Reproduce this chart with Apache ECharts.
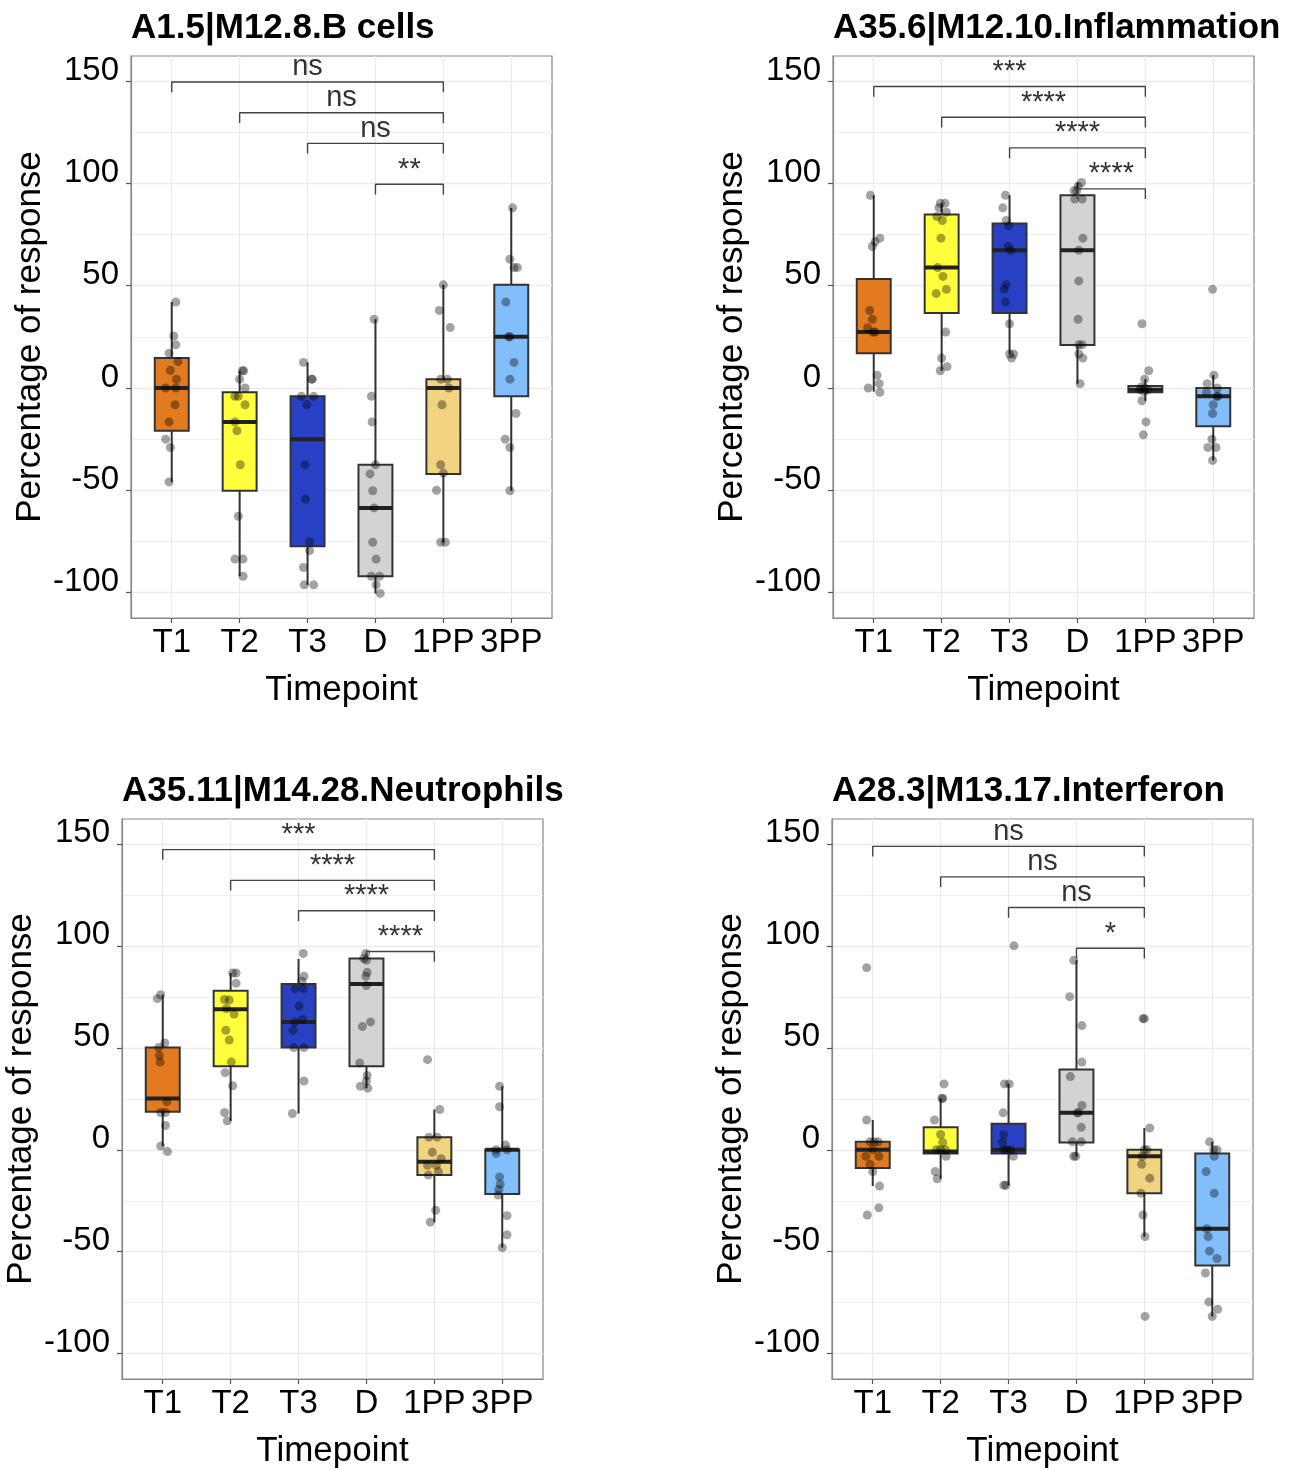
<!DOCTYPE html>
<html><head><meta charset="utf-8">
<script src="https://cdn.jsdelivr.net/npm/echarts@6/dist/echarts.min.js"></script>
<style>html,body{margin:0;padding:0;background:#fff}#c{width:1298px;height:1470px}</style>
</head><body><div id="c"></div><script>
// ---------------- DATA ----------------
const categories = ['T1', 'T2', 'T3', 'D', '1PP', '3PP'];
const yTicks = [-100, -50, 0, 50, 100, 150];
const panelTitles = ['A1.5|M12.8.B cells', 'A35.6|M12.10.Inflammation', 'A35.11|M14.28.Neutrophils', 'A28.3|M13.17.Interferon'];
const xTitle = 'Timepoint';
const yTitle = 'Percentage of response';
const bracketStart = [1, 2, 3, 4];
const bracketEnd = 5;

// box stats per category: [lower whisker, Q1, median, Q3, upper whisker]
const p1Box = [[-45.9, -20.9, 0, 14.6, 42.0], [-92.0, -50.2, -16.6, -2.1, 8.4], [-96.2, -77.3, -25.0, -4.1, 12.5], [-100.4, -92.0, -58.6, -37.5, 33.6], [-75.4, -42.0, 0, 4.3, 50.4], [-50.2, -4.1, 25.0, 50.4, 88.0]];
const p2Box = [[-1.8, 17.0, 27.3, 53.2, 94.1], [8.4, 36.6, 58.8, 84.8, 90.2], [16.6, 36.6, 67.3, 80.4, 94.1], [2.1, 21.0, 67.3, 94.1, 100.4], [-6.25, -2.1, -0.9, 0.9, 4.3], [-35.4, -18.75, -4.1, 0, 6.25]];
const p3Box = [[1.8, 18.7, 25.2, 50.1, 76.0], [14.2, 40.9, 68.9, 78.0, 86.7], [17.8, 50.1, 62.7, 81.3, 93.6], [30.2, 40.9, 81.3, 93.8, 96.3], [-35.5, -12.4, -5.9, 6.2, 19.7], [-48.0, -21.7, 0, 0, 31.1]];
const p4Box = [[-17.8, -8.9, 0, 3.9, 14.6], [-14.2, -1.8, -0.9, 11.0, 25.2], [-17.4, -1.8, 0, 12.8, 32.3], [-3.2, 3.6, 18.1, 39.4, 92.9], [-42.6, -21.3, -3.2, 0, 10.7], [-81.7, -56.8, -38.7, -1.8, 3.9]];

// individual points: [category (1-based), horizontal jitter, value]
const p1Points = [
  [1,0.06,42.0],[1,0.03,25.4],[1,0.06,21.1],[1,-0.04,17.0],[1,0.09,12.9],[1,-0.02,8.6],[1,0.07,4.3],[1,-0.09,0],[1,0.06,0],[1,0.05,-8.2],[1,-0.04,-16.6],[1,-0.09,-25.0],[1,-0.02,-29.1],[1,-0.04,-45.9],
  [2,0.06,8.4],[2,0.04,8.4],[2,0.0,4.3],[2,0.08,0],[2,-0.07,-4.1],[2,-0.02,-4.1],[2,0.08,-8.2],[2,-0.07,-16.6],[2,-0.04,-20.9],[2,0.01,-37.5],[2,-0.02,-62.7],[2,-0.07,-83.6],[2,0.05,-83.6],[2,0.05,-92.0],
  [3,-0.06,12.5],[3,0.06,4.3],[3,0.07,4.3],[3,-0.09,-4.1],[3,0.09,-4.1],[3,-0.01,-8.2],[3,-0.04,-37.5],[3,-0.03,-54.3],[3,0.03,-75.2],[3,0.03,-79.5],[3,-0.06,-87.7],[3,-0.05,-96.2],[3,0.09,-96.2],
  [4,-0.02,33.6],[4,-0.06,-4.1],[4,-0.05,-16.6],[4,0.0,-37.5],[4,-0.08,-42.0],[4,-0.04,-50.2],[4,-0.02,-58.6],[4,-0.04,-75.4],[4,0.01,-83.6],[4,-0.06,-92.0],[4,0.06,-92.0],[4,0.01,-96.2],[4,0.07,-100.4],
  [5,0.0,50.4],[5,-0.06,37.9],[5,0.1,29.5],[5,-0.04,4.3],[5,0.06,4.3],[5,0.08,0],[5,-0.02,-8.2],[5,-0.04,-37.5],[5,0.0,-41.6],[5,-0.1,-50.0],[5,-0.04,-75.4],[5,0.03,-75.4],
  [6,0.02,88.0],[6,-0.02,62.9],[6,0.04,58.8],[6,0.09,58.8],[6,-0.08,42.0],[6,-0.04,25.0],[6,-0.02,25.0],[6,0.04,12.5],[6,-0.02,4.3],[6,0.07,-12.5],[6,-0.09,-25.0],[6,-0.02,-29.1],[6,-0.02,-50.2]
];
const p2Points = [
  [1,-0.05,94.1],[1,0.09,73.2],[1,0.02,71.4],[1,-0.02,69.1],[1,-0.06,37.9],[1,-0.02,33.6],[1,-0.09,29.3],[1,-0.01,27.3],[1,0.02,27.3],[1,0.05,6.25],[1,0.08,2.1],[1,-0.08,0],[1,0.09,-2.1],
  [2,-0.02,90.2],[2,0.05,90.2],[2,-0.04,88.0],[2,0.07,85.9],[2,-0.07,83.8],[2,0.01,81.8],[2,-0.01,73.2],[2,-0.06,58.8],[2,0.02,54.5],[2,0.07,48.2],[2,-0.08,46.1],[2,0.06,27.3],[2,0.0,14.6],[2,0.08,10.4],[2,-0.02,8.4],
  [3,-0.06,94.1],[3,-0.1,88.0],[3,-0.05,81.8],[3,-0.01,79.3],[3,-0.02,69.1],[3,0.02,67.3],[3,-0.05,50.4],[3,-0.08,48.2],[3,-0.06,42.0],[3,0.0,31.4],[3,0.0,16.6],[3,0.06,16.6],[3,0.03,14.6],
  [4,0.06,100.4],[4,0.01,98.6],[4,-0.05,96.4],[4,-0.01,96.4],[4,-0.04,92.3],[4,0.07,92.3],[4,0.08,73.2],[4,0.02,67.3],[4,0.02,52.3],[4,0.01,33.6],[4,0.02,21.1],[4,0.07,21.1],[4,0.02,16.6],[4,0.08,14.6],[4,0.04,2.1],
  [5,-0.05,31.4],[5,0.05,8.4],[5,-0.01,4.3],[5,-0.06,0.5],[5,-0.01,0],[5,0.04,-0.9],[5,-0.08,-0.9],[5,-0.02,-1.8],[5,-0.05,-6.25],[5,0.01,-16.6],[5,-0.03,-22.9],
  [6,-0.01,48.2],[6,0.01,6.25],[6,-0.09,2.1],[6,0.06,0],[6,-0.1,-2.1],[6,0.05,-4.1],[6,0.07,-4.1],[6,0.0,-8.2],[6,-0.01,-12.5],[6,-0.02,-25.0],[6,-0.08,-29.1],[6,0.04,-29.1],[6,-0.01,-35.4]
];
const p3Points = [
  [1,-0.03,76.0],[1,-0.08,74.1],[1,0.03,52.4],[1,-0.06,50.1],[1,-0.05,46.2],[1,-0.04,43.0],[1,0.06,23.6],[1,-0.03,18.3],[1,0.04,18.3],[1,0.04,11.9],[1,-0.03,1.8],[1,0.07,-0.9],
  [2,0.03,86.7],[2,0.08,86.7],[2,0.08,81.7],[2,-0.09,73.7],[2,-0.02,73.4],[2,-0.06,69.3],[2,0.05,66.6],[2,-0.07,58.6],[2,-0.02,53.8],[2,0.01,43.0],[2,-0.08,37.8],[2,0.03,31.4],[2,-0.09,18.3],[2,-0.05,14.2],
  [3,0.07,96.3],[3,0.08,85.1],[3,0.05,82.6],[3,-0.05,79.0],[3,0.07,79.0],[3,0.01,70.5],[3,-0.05,62.7],[3,0.06,63.9],[3,-0.08,58.6],[3,-0.07,50.1],[3,0.08,50.1],[3,0.08,33.7],[3,-0.09,17.8],
  [4,-0.01,96.3],[4,-0.04,93.8],[4,0.0,92.9],[4,0.01,87.0],[4,-0.01,85.1],[4,0.0,80.5],[4,0.06,62.7],[4,-0.06,60.4],[4,-0.1,42.6],[4,0.01,36.4],[4,0.0,33.7],[4,-0.09,31.1],[4,0.02,30.2],
  [5,-0.1,44.2],[5,0.08,19.7],[5,-0.08,6.2],[5,0.04,6.2],[5,-0.03,-1.2],[5,0.1,-4.4],[5,-0.1,-7.6],[5,0.03,-7.6],[5,0.06,-10.7],[5,-0.09,-12.4],[5,0.02,-29.7],[5,-0.06,-35.5],
  [6,-0.04,31.1],[6,-0.04,21.1],[6,0.05,2.3],[6,-0.09,0],[6,0.07,0],[6,-0.09,-1.8],[6,-0.04,-13.3],[6,-0.03,-16.9],[6,-0.05,-19.5],[6,-0.06,-22.2],[6,0.07,-32.3],[6,0.07,-41.7],[6,0.0,-48.0]
];
const p4Points = [
  [1,-0.09,89.3],[1,-0.09,14.6],[1,-0.04,3.9],[1,0.02,3.9],[1,0.08,3.9],[1,0.0,0],[1,-0.1,-3.2],[1,0.09,-3.2],[1,-0.04,-7.1],[1,0.0,-10.7],[1,0.1,-17.8],[1,0.09,-28.4],[1,-0.08,-32.0],
  [2,0.05,32.3],[2,0.02,25.2],[2,0.03,25.2],[2,-0.09,14.6],[2,0.0,7.5],[2,0.03,3.6],[2,-0.06,0],[2,0.0,0],[2,0.07,0],[2,0.08,-3.2],[2,-0.08,-10.7],[2,-0.05,-14.2],
  [3,0.08,100.0],[3,-0.06,32.3],[3,0.01,32.3],[3,-0.08,18.1],[3,-0.07,7.5],[3,-0.09,3.6],[3,-0.07,0],[3,-0.02,0],[3,0.03,0],[3,0.07,-3.2],[3,-0.07,-17.4],[3,-0.04,-17.4],
  [4,-0.04,92.9],[4,-0.1,75.1],[4,0.08,60.9],[4,0.08,43.0],[4,-0.09,35.9],[4,0.08,21.7],[4,0.01,18.1],[4,0.03,18.1],[4,0.07,11.0],[4,-0.06,3.9],[4,0.07,3.9],[4,-0.04,-3.2],[4,-0.01,-3.2],
  [5,-0.02,64.3],[5,0.0,64.3],[5,0.08,10.7],[5,0.04,0],[5,0.0,0],[5,-0.03,-3.2],[5,-0.04,-7.1],[5,0.08,-13.9],[5,-0.05,-21.3],[5,-0.02,-32.0],[5,0.01,-42.6],[5,0.01,-81.7],
  [6,-0.04,3.9],[6,0.02,0],[6,0.07,0],[6,0.03,-3.2],[6,-0.09,-10.7],[6,0.03,-21.3],[6,-0.08,-38.7],[6,-0.06,-42.6],[6,-0.04,-49.7],[6,0.07,-53.3],[6,-0.1,-60.4],[6,-0.05,-74.6],[6,0.08,-78.2],[6,0.0,-81.7]
];

// comparison brackets (each from bracketStart[k] to bracketEnd)
const p1BracketY = [149.5, 134.5, 119.5, 99.5];
const p2BracketY = [147.3, 132.3, 117.3, 97.3];
const p3BracketY = [147.2, 132.1, 117.2, 97.2];
const p4BracketY = [148.8, 133.8, 118.8, 98.8];
const p1Sig = ['ns', 'ns', 'ns', '**'];
const p2Sig = ['***', '****', '****', '****'];
const p3Sig = ['***', '****', '****', '****'];
const p4Sig = ['ns', 'ns', 'ns', '*'];

// ---------------- STYLE / LAYOUT ----------------
const FONT = '"Liberation Sans", Arial, Helvetica, sans-serif';
const boxColors = ['#E27A1F', '#FFFF3C', '#2840C4', '#D3D3D3', '#F1D380', '#82BEFA'];
const grids = [
  { left: 131, top: 56, width: 421, height: 562 },
  { left: 833, top: 56, width: 421, height: 562 },
  { left: 122, top: 819, width: 421, height: 562 },
  { left: 832, top: 819, width: 421, height: 562 }
];
const titleTops = [11, 11, 774, 774];
const Y_MIN = -112.4, Y_MAX = 162.2, TIP = 5;

const panels = [
  { box: p1Box, pts: p1Points, by: p1BracketY, sig: p1Sig },
  { box: p2Box, pts: p2Points, by: p2BracketY, sig: p2Sig },
  { box: p3Box, pts: p3Points, by: p3BracketY, sig: p3Sig },
  { box: p4Box, pts: p4Points, by: p4BracketY, sig: p4Sig }
];

const option = {
  animation: false,
  backgroundColor: '#fff',
  textStyle: { fontFamily: FONT },
  title: panelTitles.map((t, i) => ({
    text: t, left: grids[i].left, top: titleTops[i], padding: 0,
    textStyle: { fontSize: 35, fontWeight: 'bold', color: '#000', fontFamily: FONT, lineHeight: 35 }
  })),
  grid: grids.map(g => Object.assign({ show: true, borderColor: '#888', borderWidth: 1.2, backgroundColor: 'transparent', containLabel: false }, g)),
  xAxis: grids.map((g, i) => ({
    type: 'value', gridIndex: i, min: 0.4, max: 6.6,
    axisLine: { show: true, onZero: false, lineStyle: { color: '#888', width: 1.2 } },
    axisTick: { show: true, length: 5, lineStyle: { color: '#555', width: 1.2 }, customValues: [1, 2, 3, 4, 5, 6] },
    axisLabel: { customValues: [1, 2, 3, 4, 5, 6], formatter: v => categories[Math.round(v) - 1], fontSize: 33, color: '#000', margin: 8, fontFamily: FONT },
    splitLine: { show: true, lineStyle: { color: '#ebebeb', width: 1.3 } },
    name: xTitle, nameLocation: 'middle', nameGap: 55,
    nameTextStyle: { fontSize: 35, color: '#000', fontFamily: FONT }
  })),
  yAxis: grids.map((g, i) => ({
    type: 'value', gridIndex: i, min: Y_MIN, max: Y_MAX, splitNumber: 5,
    axisLine: { show: true, onZero: false, lineStyle: { color: '#888', width: 1.2 } },
    axisTick: { show: true, length: 5, lineStyle: { color: '#555', width: 1.2 }, customValues: yTicks },
    axisLabel: { customValues: yTicks, formatter: v => v + '\n', lineHeight: 21, fontSize: 33, color: '#000', margin: 12, verticalAlign: 'middle', fontFamily: FONT },
    splitLine: { show: true, lineStyle: { color: '#ebebeb', width: 1.3 } },
    minorTick: { show: false, splitNumber: 2 },
    minorSplitLine: { show: true, lineStyle: { color: '#efefef', width: 1 } },
    name: yTitle, nameLocation: 'middle', nameGap: 83, nameRotate: 90,
    nameTextStyle: { fontSize: 35, color: '#000', fontFamily: FONT }
  })),
  series: []
};

panels.forEach((p, i) => {
  option.series.push({
    type: 'custom', xAxisIndex: i, yAxisIndex: i, z: 2, silent: true,
    data: p.box.map((b, k) => [k + 1].concat(b)),
    encode: { x: 0, y: [1, 2, 3, 4, 5] },
    renderItem: (params, api) => {
      const x = api.value(0);
      const c = v => api.coord([x, v]);
      const lo = c(api.value(1)), q1 = c(api.value(2)), md = c(api.value(3)), q3 = c(api.value(4)), hi = c(api.value(5));
      const hw = api.size([0.25, 0])[0];
      const stroke = '#333';
      return {
        type: 'group', children: [
          { type: 'line', shape: { x1: hi[0], y1: hi[1], x2: q3[0], y2: q3[1] }, style: { stroke, lineWidth: 2 } },
          { type: 'line', shape: { x1: q1[0], y1: q1[1], x2: lo[0], y2: lo[1] }, style: { stroke, lineWidth: 2 } },
          { type: 'rect', shape: { x: q3[0] - hw, y: q3[1], width: 2 * hw, height: Math.max(q1[1] - q3[1], 1) }, style: { fill: boxColors[params.dataIndex], stroke, lineWidth: 2 } },
          { type: 'line', shape: { x1: md[0] - hw, y1: md[1], x2: md[0] + hw, y2: md[1] }, style: { stroke: '#222', lineWidth: 4 } }
        ]
      };
    }
  });
  option.series.push({
    type: 'scatter', xAxisIndex: i, yAxisIndex: i, z: 3, silent: true,
    symbolSize: 9, itemStyle: { color: 'rgba(0,0,0,0.45)' },
    data: p.pts.map(q => [q[0] + q[1], q[2]])
  });
  p.by.forEach((y, k) => {
    const a = bracketStart[k], b = bracketEnd;
    option.series.push({
      type: 'line', xAxisIndex: i, yAxisIndex: i, z: 4, silent: true, symbol: 'none',
      lineStyle: { color: '#444', width: 1.4 },
      data: [[a, y - TIP], [a, y], [b, y], [b, y - TIP]]
    });
  });
  option.series.push({
    type: 'scatter', xAxisIndex: i, yAxisIndex: i, z: 5, silent: true, symbolSize: 0,
    itemStyle: { color: 'transparent' },
    label: { show: true, position: 'top', distance: 0, formatter: '{b}', fontSize: 29, color: '#000', fontFamily: FONT },
    data: p.by.map((y, k) => ({ name: p.sig[k], value: [(bracketStart[k] + bracketEnd) / 2, y] }))
  });
});

const chart = echarts.init(document.getElementById('c'), null, { renderer: 'canvas' });
chart.setOption(option);
</script></body></html>
